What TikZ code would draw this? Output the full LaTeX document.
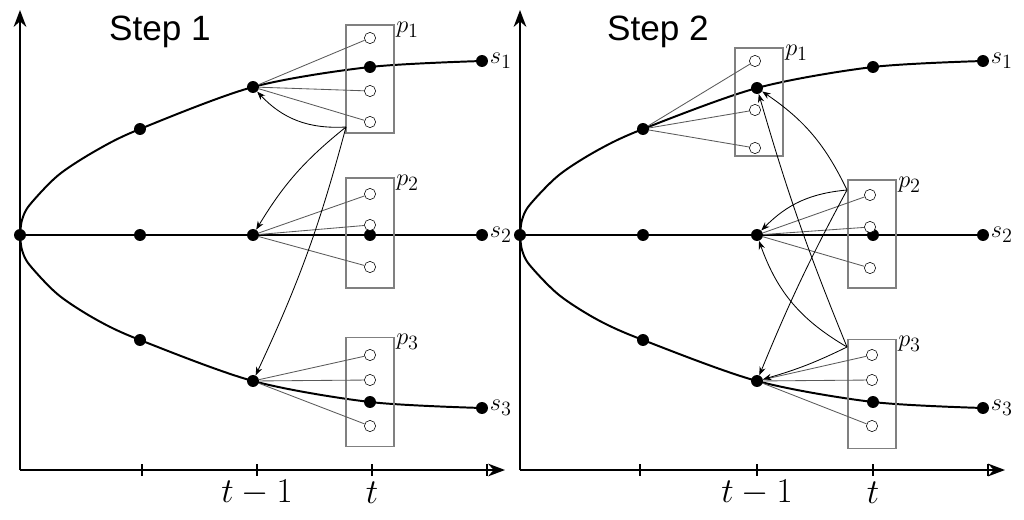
\documentclass[tikz,border=0pt]{standalone}
\usepackage{fontspec}
\newfontfamily\labelsans{Liberation Sans}
\usetikzlibrary{arrows.meta}
\tikzset{
  dot/.style={circle, fill=black, inner sep=0pt, minimum size=8.5pt},
  odot/.style={circle, draw=black, fill=white, inner sep=0pt, minimum size=8pt},
  pbox/.style={draw=gray, thick},
  link/.style={gray!70!black, line width=0.6pt},
  pull/.style={-{Stealth[length=6pt]}, line width=0.6pt},
  curve/.style={line width=1.4pt},
  axis/.style={-{Stealth[length=12pt]}, line width=1.5pt},
  title/.style={font=\labelsans\fontsize{25}{30}\selectfont},
  tlabel/.style={font=\fontsize{24}{28}\selectfont},
  plabel/.style={font=\fontsize{19}{22}\selectfont, inner sep=1pt}
}
\begin{document}
\begin{tikzpicture}[x=0.025cm, y=-0.025cm]
  \useasboundingbox (0,0) rectangle (1024,519);

  % Step 1
  \node[title] (title1) at (160,32) {Step 1};
  \draw[axis] (20,470) -- (20,10);
  \draw[axis] (20,470) -- (505,470);
  \foreach \x in {142,257,372,487} \draw[line width=1.2pt] (\x,464) -- (\x,476);
  \node[tlabel] (tm1) at (257,493) {$t-1$};
  \node[tlabel] (ta) at (372,493) {$t$};
  \draw[curve] plot[smooth] coordinates {(20,235) (22,220) (29.6,205) (58.5,175) (97,150) (140,129) (253,87) (370,67) (482,61)};
  \draw[curve] (20,235) -- (482,235);
  \draw[curve] plot[smooth] coordinates {(20,235) (22,250) (29.6,265) (58.5,295) (97,320) (140,340) (253,381) (370,402) (482,408)};
  \node[pbox, minimum width=48*0.025cm, minimum height=108*0.025cm] (abox1) at (370,79) {};
  \node[pbox, minimum width=48*0.025cm, minimum height=110*0.025cm] (abox2) at (370,233) {};
  \node[pbox, minimum width=48*0.025cm, minimum height=109*0.025cm] (abox3) at (370,392) {};
  \node[plabel, anchor=north west] at ([yshift=3pt]abox1.north east) {$p_1$};
  \node[plabel, anchor=north west] at ([yshift=3pt]abox2.north east) {$p_2$};
  \node[plabel, anchor=north west] at ([yshift=3pt]abox3.north east) {$p_3$};
  \node[dot] (ao) at (20,235) {};
  \node[dot] (a11) at (140,129) {};
  \node[dot] (a12) at (253,87) {};
  \node[dot] (a13) at (370,67) {};
  \node[dot] (a14) at (482,61) {};
  \node[dot] (a21) at (140,235) {};
  \node[dot] (a22) at (253,235) {};
  \node[dot] (a23) at (370,235) {};
  \node[dot] (a24) at (482,235) {};
  \node[dot] (a31) at (140,340) {};
  \node[dot] (a32) at (253,381) {};
  \node[dot] (a33) at (370,402) {};
  \node[dot] (a34) at (482,408) {};
  \node[plabel, right] at (a14.east) {$s_1$};
  \node[plabel, right] at (a24.east) {$s_2$};
  \node[plabel, right] at (a34.east) {$s_3$};
  \foreach \n/\y in {a/38,b/91,c/122} \node[odot] (ap1\n) at (370,\y) {};
  \foreach \n/\y in {a/194,b/225,c/267} \node[odot] (ap2\n) at (370,\y) {};
  \foreach \n/\y in {a/355,b/380,c/426} \node[odot] (ap3\n) at (370,\y) {};
  \foreach \n in {a,b,c} {
    \draw[link] (a12) -- (ap1\n);
    \draw[link] (a22) -- (ap2\n);
    \draw[link] (a32) -- (ap3\n);
  }
  \coordinate (asrc) at (346,127);
  \draw[pull] (asrc) to[bend left=25] (a12);
  \draw[pull] (asrc) to[bend right=10] (a22);
  \draw[pull] (asrc) to[bend left=5] (a32);

  % Step 2
  \node[title] (title2) at (658,32) {Step 2};
  \draw[axis] (520,470) -- (520,10);
  \draw[axis] (520,470) -- (1005,470);
  \foreach \x in {640,757,873,988} \draw[line width=1.2pt] (\x,464) -- (\x,476);
  \node[tlabel] (tm2) at (757,493) {$t-1$};
  \node[tlabel] (tb) at (873,493) {$t$};
  \draw[curve] plot[smooth] coordinates {(520,235) (522,220) (529.6,205) (559,175) (598,150) (643,129) (757,88) (873,67) (983,61)};
  \draw[curve] (520,235) -- (983,235);
  \draw[curve] plot[smooth] coordinates {(520,235) (522,250) (529.6,265) (559,295) (598,320) (643,340) (757,381) (873,402) (983,408)};
  \node[pbox, minimum width=48*0.025cm, minimum height=108*0.025cm] (bbox1) at (759,102) {};
  \node[pbox, minimum width=48*0.025cm, minimum height=108*0.025cm] (bbox2) at (872,234) {};
  \node[pbox, minimum width=48*0.025cm, minimum height=109*0.025cm] (bbox3) at (872,394) {};
  \node[plabel, anchor=north west] at ([yshift=3pt]bbox1.north east) {$p_1$};
  \node[plabel, anchor=north west] at ([yshift=3pt]bbox2.north east) {$p_2$};
  \node[plabel, anchor=north west] at ([yshift=3pt]bbox3.north east) {$p_3$};
  \node[dot] (bo) at (520,235) {};
  \node[dot] (b11) at (643,129) {};
  \node[dot] (b12) at (757,88) {};
  \node[dot] (b13) at (873,67) {};
  \node[dot] (b14) at (983,61) {};
  \node[dot] (b21) at (643,235) {};
  \node[dot] (b22) at (757,235) {};
  \node[dot] (b23) at (873,235) {};
  \node[dot] (b24) at (983,235) {};
  \node[dot] (b31) at (643,340) {};
  \node[dot] (b32) at (757,381) {};
  \node[dot] (b33) at (873,402) {};
  \node[dot] (b34) at (983,408) {};
  \node[plabel, right] at (b14.east) {$s_1$};
  \node[plabel, right] at (b24.east) {$s_2$};
  \node[plabel, right] at (b34.east) {$s_3$};
  \foreach \n/\y in {a/61,b/110,c/148} \node[odot] (bp1\n) at (755,\y) {};
  \foreach \n/\y in {a/195,b/227,c/268} \node[odot] (bp2\n) at (870,\y) {};
  \foreach \n/\y in {a/355,b/380,c/426} \node[odot] (bp3\n) at (872,\y) {};
  \foreach \n in {a,b,c} {
    \draw[link] (b11) -- (bp1\n);
    \draw[link] (b22) -- (bp2\n);
    \draw[link] (b32) -- (bp3\n);
  }
  \coordinate (bsrc2) at (847,190);
  \coordinate (bsrc3) at (847,347);
  \draw[pull] (bsrc2) to[bend right=15] (b12);
  \draw[pull] (bsrc2) to[bend right=20] (b22);
  \draw[pull] (bsrc2) to[bend right=3] (b32);
  \draw[pull] (bsrc3) to[bend left=3] (b12);
  \draw[pull] (bsrc3) to[bend left=20] (b22);
  \draw[pull] (bsrc3) to[bend left=5] (b32);
\end{tikzpicture}
\end{document}
